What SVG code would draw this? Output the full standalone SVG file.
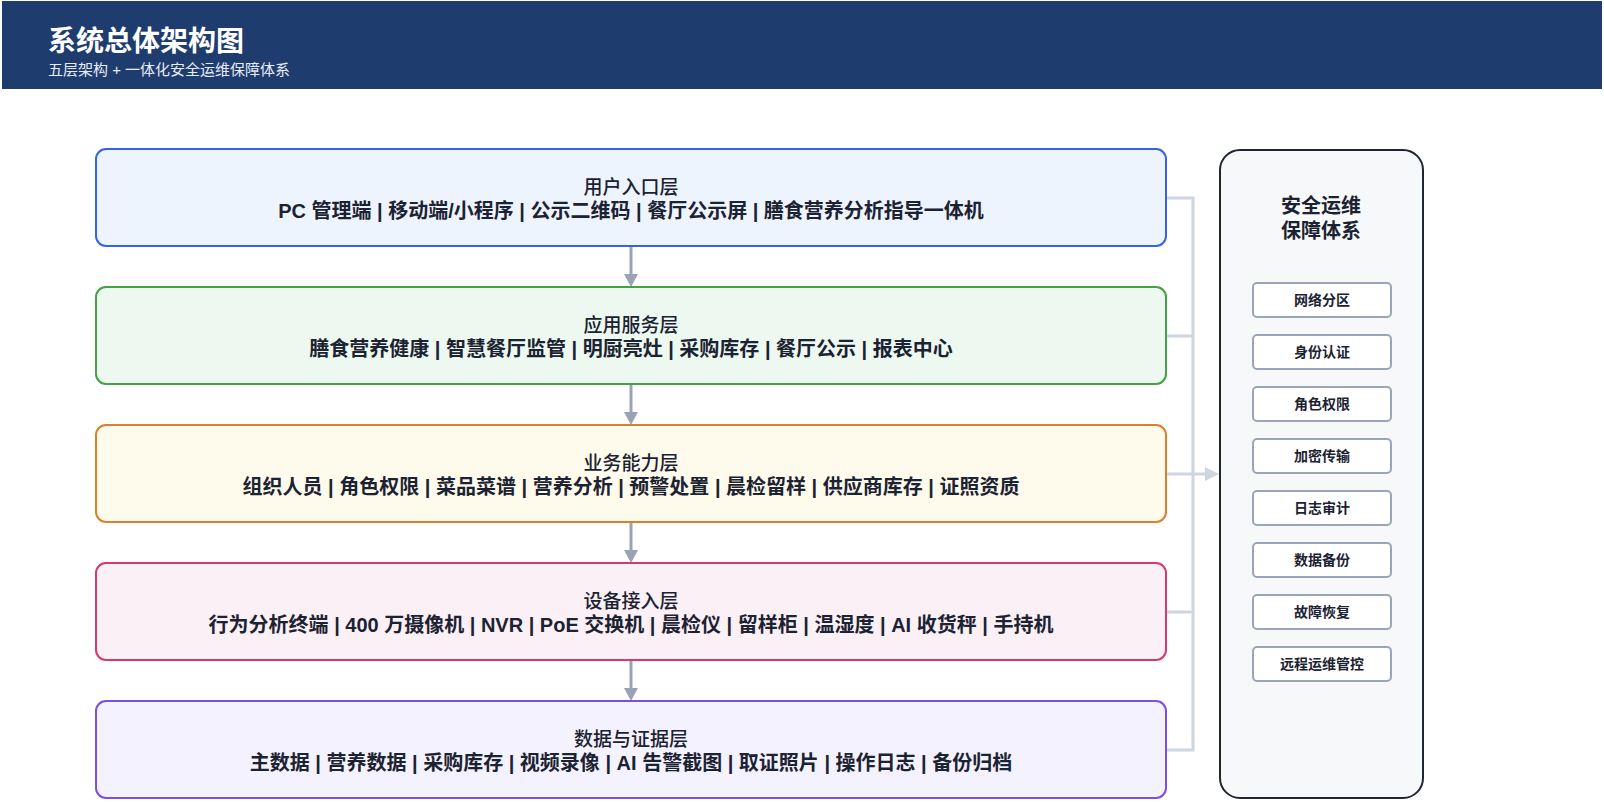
<svg xmlns="http://www.w3.org/2000/svg" width="1604" height="803" viewBox="0 0 1604 803">
<style>
text{font-family:"Liberation Sans","Noto Sans CJK SC",sans-serif;fill:#1b2232}
.ht{fill:#ffffff;font-size:28px;font-weight:700}
.hs{fill:#e6ecf7;font-size:15px;font-weight:400}
.lt{font-size:19px;font-weight:500;text-anchor:middle}
.lc{font-size:20px;font-weight:700;text-anchor:middle}
.layer{stroke-width:2}
.pt{font-size:20px;font-weight:700;text-anchor:middle}
.sb{fill:#ffffff;stroke:#9aa5b8;stroke-width:2}
.st{font-size:14px;font-weight:700;text-anchor:middle}
.down{stroke:#9aa3b5;stroke-width:3;fill:none}
.downh{fill:#9aa3b5}
.side{stroke:#cdd5e1;stroke-width:3;fill:none}
.sideh{fill:#cdd5e1}
</style>
<rect x="0" y="0" width="1604" height="803" fill="#ffffff"/>
<g id="header">
<rect x="2" y="1" width="1600" height="88" fill="#1f3c6f"/>
<text class="ht" x="48" y="51">系统总体架构图</text>
<text class="hs" x="48" y="75">五层架构 + 一体化安全运维保障体系</text>
</g>
<g id="connectors">
<line class="down" x1="631" y1="247" x2="631" y2="276"/>
<polygon class="downh" points="624,274 638,274 631,287"/>
<line class="down" x1="631" y1="385" x2="631" y2="414"/>
<polygon class="downh" points="624,412 638,412 631,425"/>
<line class="down" x1="631" y1="523" x2="631" y2="552"/>
<polygon class="downh" points="624,550 638,550 631,563"/>
<line class="down" x1="631" y1="661" x2="631" y2="690"/>
<polygon class="downh" points="624,688 638,688 631,701"/>
<polyline class="side" points="1167,198 1193,198 1193,750 1167,750"/>
<line class="side" x1="1167" y1="336" x2="1193" y2="336"/>
<line class="side" x1="1167" y1="612" x2="1193" y2="612"/>
<line class="side" x1="1167" y1="474" x2="1207" y2="474"/>
<polygon class="sideh" points="1205,467 1219,474 1205,481"/>
</g>
<g id="layer-user">
<rect class="layer" x="96" y="149" width="1070" height="97" rx="10" fill="#eef4fe" stroke="#3663e6"/>
<text class="lt" x="631" y="194">用户入口层</text>
<text class="lc" x="631" y="218">PC 管理端 | 移动端/小程序 | 公示二维码 | 餐厅公示屏 | 膳食营养分析指导一体机</text>
</g>
<g id="layer-app">
<rect class="layer" x="96" y="287" width="1070" height="97" rx="10" fill="#edf9f0" stroke="#45a046"/>
<text class="lt" x="631" y="332">应用服务层</text>
<text class="lc" x="631" y="356">膳食营养健康 | 智慧餐厅监管 | 明厨亮灶 | 采购库存 | 餐厅公示 | 报表中心</text>
</g>
<g id="layer-biz">
<rect class="layer" x="96" y="425" width="1070" height="97" rx="10" fill="#fefaec" stroke="#dc812b"/>
<text class="lt" x="631" y="470">业务能力层</text>
<text class="lc" x="631" y="494">组织人员 | 角色权限 | 菜品菜谱 | 营养分析 | 预警处置 | 晨检留样 | 供应商库存 | 证照资质</text>
</g>
<g id="layer-device">
<rect class="layer" x="96" y="563" width="1070" height="97" rx="10" fill="#fbf0f5" stroke="#d43a70"/>
<text class="lt" x="631" y="608">设备接入层</text>
<text class="lc" x="631" y="632">行为分析终端 | 400 万摄像机 | NVR | PoE 交换机 | 晨检仪 | 留样柜 | 温湿度 | AI 收货秤 | 手持机</text>
</g>
<g id="layer-data">
<rect class="layer" x="96" y="701" width="1070" height="97" rx="10" fill="#f4f2fe" stroke="#7b4fe6"/>
<text class="lt" x="631" y="746">数据与证据层</text>
<text class="lc" x="631" y="770">主数据 | 营养数据 | 采购库存 | 视频录像 | AI 告警截图 | 取证照片 | 操作日志 | 备份归档</text>
</g>
<g id="security-panel">
<rect x="1220" y="150" width="203" height="648" rx="20" fill="#f7f8fa" stroke="#1f2630" stroke-width="2"/>
<text class="pt" x="1321" y="213">安全运维</text>
<text class="pt" x="1321" y="238">保障体系</text>
</g>
<g id="sec-net"><rect class="sb" x="1253" y="283" width="138" height="34" rx="4"/><text class="st" x="1322" y="305">网络分区</text></g>
<g id="sec-auth"><rect class="sb" x="1253" y="335" width="138" height="34" rx="4"/><text class="st" x="1322" y="357">身份认证</text></g>
<g id="sec-role"><rect class="sb" x="1253" y="387" width="138" height="34" rx="4"/><text class="st" x="1322" y="409">角色权限</text></g>
<g id="sec-enc"><rect class="sb" x="1253" y="439" width="138" height="34" rx="4"/><text class="st" x="1322" y="461">加密传输</text></g>
<g id="sec-log"><rect class="sb" x="1253" y="491" width="138" height="34" rx="4"/><text class="st" x="1322" y="513">日志审计</text></g>
<g id="sec-backup"><rect class="sb" x="1253" y="543" width="138" height="34" rx="4"/><text class="st" x="1322" y="565">数据备份</text></g>
<g id="sec-recover"><rect class="sb" x="1253" y="595" width="138" height="34" rx="4"/><text class="st" x="1322" y="617">故障恢复</text></g>
<g id="sec-ops"><rect class="sb" x="1253" y="647" width="138" height="34" rx="4"/><text class="st" x="1322" y="669">远程运维管控</text></g>
</svg>
